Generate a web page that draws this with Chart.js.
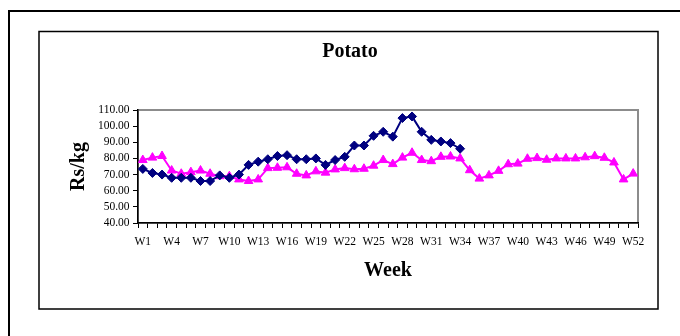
<!DOCTYPE html>
<html>
<head>
<meta charset="utf-8">
<script src="https://cdn.jsdelivr.net/npm/chart.js@4.4.1/dist/chart.umd.min.js"></script>
<style>
  html, body { margin: 0; padding: 0; background: #fff; }
  #potatoChart { display: block; background: #fff; }
</style>
</head>
<body>
<canvas id="potatoChart" width="680" height="336"></canvas>
<script>
const weeks = ['W1', 'W2', 'W3', 'W4', 'W5', 'W6', 'W7', 'W8', 'W9', 'W10',
  'W11', 'W12', 'W13', 'W14', 'W15', 'W16', 'W17', 'W18', 'W19', 'W20',
  'W21', 'W22', 'W23', 'W24', 'W25', 'W26', 'W27', 'W28', 'W29', 'W30',
  'W31', 'W32', 'W33', 'W34', 'W35', 'W36', 'W37', 'W38', 'W39', 'W40',
  'W41', 'W42', 'W43', 'W44', 'W45', 'W46', 'W47', 'W48', 'W49', 'W50',
  'W51', 'W52'];

// navy diamonds, only reported up to W34
const series1 = [73.5, 71, 70, 68, 68, 68, 66, 66, 69.5, 68,
  70, 76, 78, 79.5, 81.5, 82, 79.5, 79.5, 80, 76,
  79, 81, 88, 88, 94, 96.5, 93.5, 105, 106, 96.5,
  91.5, 90.5, 89.5, 86];

// magenta triangles, full year
const series2 = [79, 80.5, 81.5, 72.5, 70.5, 71.5, 72.5, 70.5, 69, 69,
  67, 66, 67, 74, 74.2, 74.5, 70.5, 69.5, 72, 71.2,
  73.2, 74, 73.3, 73.6, 75.5, 79, 76.5, 80.5, 83.5, 79,
  78.3, 81, 81.2, 80, 72.7, 67.5, 69.5, 72.3, 76.4, 76.8,
  79.8, 80.2, 79.2, 80, 80, 80, 80.7, 81.4, 80.4, 77.5,
  67, 70.6];

const yTicks = { min: 40, max: 110, step: 10 };

const serif = 'Liberation Serif, Times New Roman, serif';

// frames around the page and the plot area
const framePlugin = {
  id: 'frames',
  beforeDraw(chart) {
    const c = chart.ctx;
    const a = chart.chartArea;
    c.save();
    c.fillStyle = '#fff';
    c.fillRect(0, 0, chart.width, chart.height);
    c.strokeStyle = '#000';
    c.lineWidth = 2;
    c.strokeRect(9, 11, 700, 360);
    c.lineWidth = 1.5;
    c.strokeRect(39, 31.5, 619, 277.5);
    c.strokeStyle = '#8c8c8c';
    c.lineWidth = 2;
    c.strokeRect(a.left, a.top, a.right - a.left, a.bottom - a.top);
    c.restore();
  }
};

const ctx = document.getElementById('potatoChart').getContext('2d');
const potatoChart = new Chart(ctx, {
  type: 'line',
  data: {
    labels: weeks,
    datasets: [
      {
        label: 'Series1',
        data: series1,
        borderColor: '#000080',
        backgroundColor: '#000080',
        borderWidth: 2,
        tension: 0,
        pointStyle: 'rectRot',
        pointRadius: 4.5,
        pointBorderWidth: 1
      },
      {
        label: 'Series2',
        data: series2,
        borderColor: '#ff00ff',
        backgroundColor: '#ff00ff',
        borderWidth: 2,
        tension: 0,
        pointStyle: 'triangle',
        pointRadius: 5,
        pointBorderWidth: 1
      }
    ]
  },
  options: {
    responsive: false,
    animation: false,
    devicePixelRatio: 1,
    layout: {
      padding: { left: 62, right: 42, top: 30, bottom: 53 }
    },
    plugins: {
      legend: { display: false },
      tooltip: { enabled: false },
      title: {
        display: true,
        text: 'Potato',
        color: '#000',
        font: { family: serif, size: 20, weight: 'bold' },
        padding: { top: 10, bottom: 46 }
      }
    },
    scales: {
      x: {
        offset: true,
        grid: {
          offset: true,
          drawOnChartArea: false,
          drawTicks: true,
          tickLength: 5,
          color: '#000',
          lineWidth: 1
        },
        border: { display: true, color: '#000', width: 1.5 },
        ticks: {
          autoSkip: false,
          maxRotation: 0,
          padding: 7,
          color: '#000',
          font: { family: serif, size: 11.5 },
          callback: function(val, i) {
            return i % 3 === 0 ? weeks[i] : '';
          }
        },
        title: {
          display: true,
          text: 'Week',
          color: '#000',
          font: { family: serif, size: 20, weight: 'bold' },
          padding: { top: 0, bottom: 0.5 }
        },
        afterFit: function(scale) {
          scale.height = 60;
        }
      },
      y: {
        min: yTicks.min,
        max: yTicks.max,
        grid: {
          drawOnChartArea: false,
          drawTicks: true,
          tickLength: 5,
          color: '#000',
          lineWidth: 1
        },
        border: { display: true, color: '#000', width: 1.5 },
        ticks: {
          stepSize: yTicks.step,
          autoSkip: false,
          padding: 3.5,
          color: '#000',
          font: { family: serif, size: 11.5 },
          callback: function(value) {
            return value.toFixed(2);
          }
        },
        title: {
          display: true,
          text: 'Rs/kg',
          color: '#000',
          font: { family: serif, size: 20, weight: 'bold' },
          padding: { top: 5, bottom: 0 }
        },
        afterFit: function(scale) {
          scale.width = 76;
        }
      }
    }
  },
  plugins: [framePlugin]
});
</script>
</body>
</html>
